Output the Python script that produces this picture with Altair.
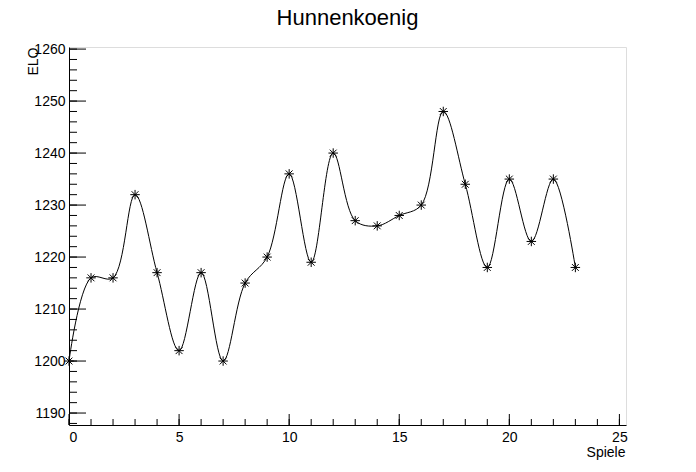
import altair as alt
import pandas as pd

games = list(range(24))
elo = [1200, 1216, 1216, 1232, 1217, 1202, 1217, 1200, 1215, 1220, 1236, 1219,
       1240, 1227, 1226, 1228, 1230, 1248, 1234, 1218, 1235, 1223, 1235, 1218]

y_major = [1190, 1200, 1210, 1220, 1230, 1240, 1250, 1260]
y_minor = list(range(1188, 1261, 2))
x_major = [0, 5, 10, 15, 20, 25]
x_minor = list(range(0, 26))

df = pd.DataFrame({"x": games, "y": elo})
W, H = 557, 378
FONT = "Liberation Sans"

xs = alt.Scale(domain=[0, 25.3], nice=False, zero=False)
ys = alt.Scale(domain=[1187.7, 1260.4], nice=False, zero=False)

asterisk = "M-1,0L1,0M0,-1L0,1M-0.72,-0.72L0.72,0.72M-0.72,0.72L0.72,-0.72"

line = alt.Chart(df).mark_line(interpolate="catmull-rom", color="black", strokeWidth=1).encode(
    x=alt.X("x:Q", scale=xs, axis=alt.Axis(values=x_major, ticks=False, grid=False, labelPadding=5,
                                              format="d",
                                              labelFontSize=14, labelFont=FONT, labelColor="black",
                                              domainColor="black", title="Spiele", titleFont=FONT,
                                              titleFontSize=14, titleFontWeight="normal",
                                              titleAnchor="end", titleAlign="right", titleX=W - 1,
                                              titleBaseline="alphabetic",
                                              titleY=31, titleColor="black")),
    y=alt.Y("y:Q", scale=ys, axis=alt.Axis(values=y_major, ticks=False, grid=False, labelPadding=4,
                                              format="d",
                                              labelFontSize=14, labelFont=FONT, labelColor="black",
                                              domainColor="black", title="ELO", titleFont=FONT,
                                              titleFontSize=14, titleFontWeight="normal",
                                              titleAngle=270, titleAlign="right", titleBaseline="alphabetic",
                                              titleX=-32, titleY=0, titleColor="black")),
)

pts = alt.Chart(df).mark_point(shape=asterisk, filled=False, color="black", size=90, strokeWidth=1, opacity=1).encode(
    x=alt.X("x:Q", scale=xs), y=alt.Y("y:Q", scale=ys)
)

ymaj = alt.Chart(pd.DataFrame({"v": y_major})).mark_rule(color="black", strokeWidth=1).encode(
    y=alt.Y("v:Q", scale=ys), x=alt.value(0), x2=alt.value(17))
ymin = alt.Chart(pd.DataFrame({"v": y_minor})).mark_rule(color="black", strokeWidth=1).encode(
    y=alt.Y("v:Q", scale=ys), x=alt.value(0), x2=alt.value(8))
xmaj = alt.Chart(pd.DataFrame({"v": x_major})).mark_rule(color="black", strokeWidth=1).encode(
    x=alt.X("v:Q", scale=xs), y=alt.value(H), y2=alt.value(H - 11))
xmin = alt.Chart(pd.DataFrame({"v": x_minor})).mark_rule(color="black", strokeWidth=1).encode(
    x=alt.X("v:Q", scale=xs), y=alt.value(H), y2=alt.value(H - 6))

chart = alt.layer(ymin, ymaj, xmin, xmaj, line, pts).properties(
    width=W, height=H,
    title=alt.TitleParams("Hunnenkoenig", font=FONT, fontSize=22, fontWeight="normal",
                          color="black", anchor="middle", offset=12),
    autosize=alt.AutoSizeParams(type="none"),
    padding={"left": 61, "top": 39, "right": 60, "bottom": 40},
).configure_view(stroke="black", strokeWidth=1).configure(background="white")

chart.save("out.html", embed_options={"renderer": "svg", "actions": False})
